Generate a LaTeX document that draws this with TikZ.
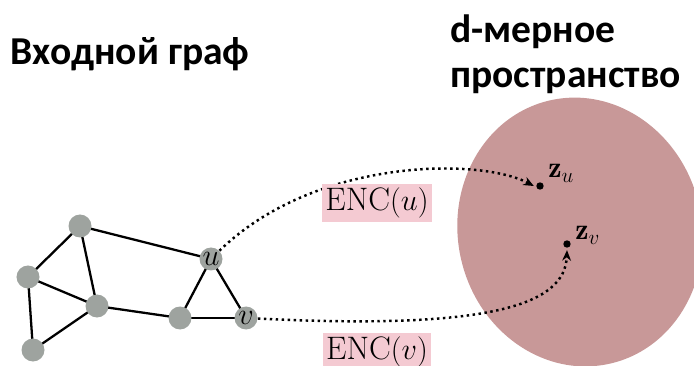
\documentclass[tikz,border=0pt]{standalone}
\usepackage{fontspec}
\usepackage{tkz-euclide}
\usepackage{tikz}
\usepackage{amsmath}
\usetikzlibrary{arrows.meta}
\newfontfamily\titlefont{Carlito}
\definecolor{nodegray}{RGB}{158,163,159}
\definecolor{spacered}{RGB}{200,152,152}
\definecolor{encpink}{RGB}{244,202,210}
\tikzset{
  vert/.style={circle, fill=nodegray, minimum size=0.46cm, inner sep=0pt, font=\fontsize{16}{18}\selectfont},
  enc/.style={fill=encpink, inner sep=2pt, font=\fontsize{18.5}{20}\selectfont},
  zlab/.style={anchor=base west, inner sep=0pt, font=\fontsize{17}{19}\selectfont},
  embed/.style={dotted, line width=1.4pt, -{Stealth[length=6pt,width=5pt]}},
  title/.style={anchor=base west, font=\titlefont\bfseries\fontsize{22.5}{26}\selectfont, align=left, inner sep=0pt}
}
\begin{document}
\begin{tikzpicture}
    \useasboundingbox (0,0) rectangle (13.88,7.3);
    \tkzDefPoints{1.6/2.78/A,0.56/1.76/B,1.94/1.18/C,0.66/0.30/D,4.22/2.12/U,3.60/0.94/W,4.92/0.94/V}
    \tkzDefPoints{10.8/3.58/Zu,11.34/2.42/Zv}
    % embedding space
    \fill[spacered, rotate around={13:(11.6,2.66)}] (11.6,2.66) ellipse (2.44 and 2.7);
    % input graph
    \tkzDrawSegments[line width=1.3pt](A,B A,C A,U B,C B,D D,C C,W W,U U,V W,V)
    \foreach \p in {A,B,C,D,W}
      \node[vert] (n\p) at (\p) {};
    \node[vert] (nU) at (U) {$u$};
    \node[vert] (nV) at (V) {$v$};
    \fill (Zu) circle (2.1pt);
    \fill (Zv) circle (2.1pt);
    \node[zlab] (lzu) at ([shift={(0.16,0.16)}]Zu) {$\mathbf{z}_u$};
    \node[zlab] (lzv) at ([shift={(0.16,0.08)}]Zv) {$\mathbf{z}_v$};
    % encoder arrows
    \draw[embed] (nU) .. controls (6.3,4.15) and (9.6,4.15) .. ([xshift=-3.5pt]Zu);
    \draw[embed] (nV) .. controls (9.8,0.7) and (11.3,1.2) .. ([yshift=-3.5pt]Zv);
    \node[enc] (encu) at (7.54,3.24) {$\mathrm{ENC}(u)$};
    \node[enc] (encv) at (7.54,0.26) {$\mathrm{ENC}(v)$};
    % titles
    \node[title] (tin) at (0.2,6.0) {Входной граф};
    \node[title] (tout) at (9.0,5.54) {d-мерное\\пространство};
\end{tikzpicture}
\end{document}
